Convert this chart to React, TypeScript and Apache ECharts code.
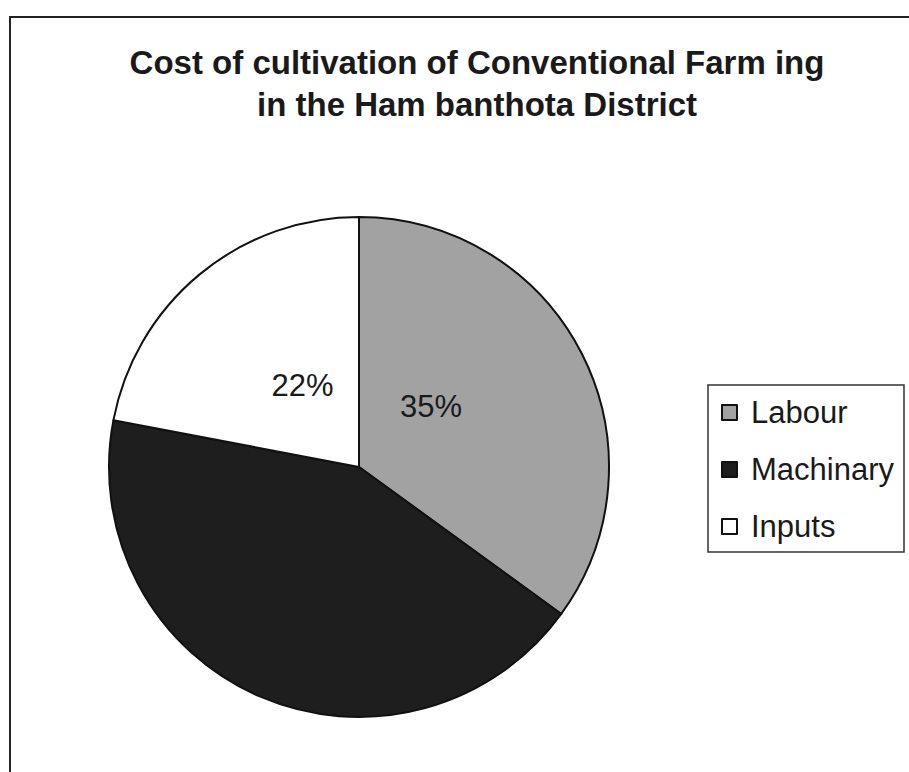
import React, { useEffect, useRef } from "react";
import * as echarts from "echarts";

const categories = ["Labour", "Machinary", "Inputs"];
const shares = [35, 43, 22];
const sliceColors = ["#a2a2a2", "#1e1e1e", "#ffffff"];
const showLabel = [true, false, true];
const labelOffsets: [number, number][] = [[-42, -2], [0, 0], [25, 17]];
const titleLines = ["Cost of cultivation of Conventional Farm ing", "in the Ham banthota District"];

export default function App() {
  const ref = useRef<HTMLDivElement>(null);
  useEffect(() => {
    if (!ref.current) return;
    const chart = echarts.init(ref.current, undefined, { renderer: "svg" });
    const font = "'Liberation Sans', Arial, Helvetica, sans-serif";
    chart.setOption({
      animation: false,
      backgroundColor: "#ffffff",
      title: {
        text: titleLines.join("\n"),
        left: 472,
        top: 36,
        textAlign: "center",
        textStyle: {
          fontFamily: font,
          fontWeight: "bold",
          fontSize: 33,
          lineHeight: 42,
          color: "#1a1a1a",
        },
      },
      legend: {
        orient: "vertical",
        left: 708,
        top: 385,
        width: 197,
        backgroundColor: "#ffffff",
        borderColor: "#333",
        borderWidth: 1.5,
        borderRadius: 0,
        padding: [12, 10, 10, 13],
        itemGap: 26,
        itemWidth: 15,
        itemHeight: 15,
        icon: "rect",
        selectedMode: false,
        data: categories,
        itemStyle: { borderColor: "#111", borderWidth: 2 },
        textStyle: {
          fontFamily: font,
          fontSize: 31,
          color: "#1a1a1a",
          padding: [0, 0, 0, 9],
        },
      },
      graphic: [
        {
          type: "rect",
          silent: true,
          z: -10,
          shape: { x: 10, y: 17, width: 960, height: 820 },
          style: { fill: "none", stroke: "#222", lineWidth: 2 },
        },
      ],
      series: [
        {
          type: "pie",
          center: [359, 467],
          radius: 250,
          startAngle: 90,
          clockwise: true,
          percentPrecision: 0,
          silent: true,
          emphasis: { disabled: true },
          labelLine: { show: false },
          itemStyle: { borderColor: "#111", borderWidth: 2 },
          data: categories.map((name, i) => ({
            name,
            value: shares[i],
            itemStyle: { color: sliceColors[i] },
            label: {
              show: showLabel[i],
              position: "inside",
              formatter: "{d}%",
              offset: labelOffsets[i],
              fontFamily: font,
              fontSize: 31,
              color: "#1a1a1a",
            },
          })),
        },
      ],
    });
    return () => chart.dispose();
  }, []);
  return (
    <div
      ref={ref}
      style={{ position: "fixed", left: 0, top: 0, width: 909, height: 772, background: "#fff" }}
    />
  );
}
